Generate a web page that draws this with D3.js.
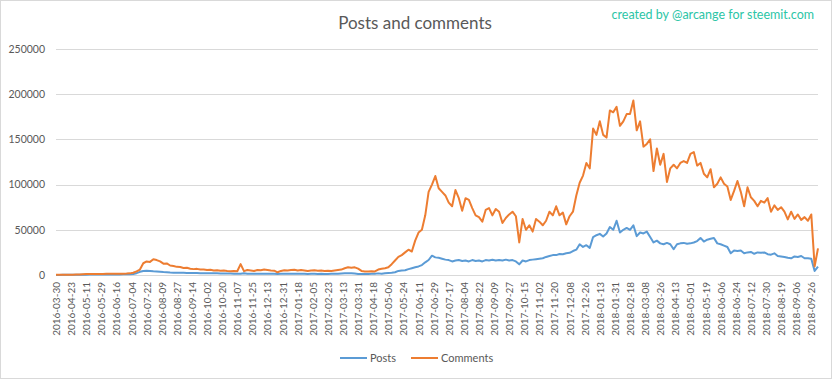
<!DOCTYPE html>
<html>
<head>
<meta charset="utf-8">
<script src="https://cdn.jsdelivr.net/npm/d3@7"></script>
<style>
  html, body { margin: 0; padding: 0; background: #fff; }
  svg { display: block; }
  text { font-family: Lato, "Open Sans", sans-serif; }
</style>
</head>
<body>
<svg id="chart" width="832" height="379"></svg>
<script>
// ---- data ----
const tickLabels = [
  "2016-03-30","2016-04-23","2016-05-11","2016-05-29","2016-06-16","2016-07-04","2016-07-22","2016-08-09","2016-08-27","2016-09-14",
  "2016-10-02","2016-10-20","2016-11-07","2016-11-25","2016-12-13","2016-12-31","2017-01-18","2017-02-05","2017-02-23","2017-03-13",
  "2017-03-31","2017-04-18","2017-05-06","2017-05-24","2017-06-11","2017-06-29","2017-07-17","2017-08-04","2017-08-22","2017-09-09",
  "2017-09-27","2017-10-15","2017-11-02","2017-11-20","2017-12-08","2017-12-26","2018-01-13","2018-01-31","2018-02-18","2018-03-08",
  "2018-03-26","2018-04-13","2018-05-01","2018-05-19","2018-06-06","2018-06-24","2018-07-12","2018-07-30","2018-08-19","2018-09-06",
  "2018-09-26"
];
const tickEvery = 18;      // categories between labels
const sampleEvery = 4;     // categories between stored samples
const categoryCount = 909; // number of daily categories

const commentsValues = [
  200,250,300,300,350,400,450,500,900,1000,
  1000,1100,1100,1200,1200,1300,1300,1400,1400,1500,
  1500,1600,1800,2500,4000,6000,13000,15000,14500,17400,
  16500,15000,12500,12800,10500,10000,9000,8800,7800,8000,
  7000,6500,6800,6000,6200,5500,5800,5000,5300,4800,
  5000,4500,4200,4400,4100,12000,4300,5500,5000,4500,
  5500,5200,6000,5500,5000,4800,3000,4500,5200,5000,
  5500,5800,5000,5400,5000,4500,5000,5200,4800,5000,
  4500,4800,4500,5000,5500,6000,7500,8500,8000,8500,
  7000,4500,4000,3800,4200,4000,6000,7000,7500,8500,
  12000,16000,20000,22000,25000,28000,26000,38000,47000,50000,
  66000,92000,100000,109500,96000,92000,88000,80000,76000,94000,
  85000,71000,85000,83000,74000,66000,64000,59000,72000,74000,
  66000,73000,70000,57500,63000,67000,70000,65000,36000,62000,
  50000,55000,48000,62000,59000,55000,60000,70000,66000,76000,
  66000,69000,56000,65000,70000,88000,102000,110000,124000,118000,
  162000,155000,170000,155000,152000,182000,180000,186000,165000,170000,
  178000,178000,193000,160000,170000,142000,145000,150000,115000,140000,
  122000,134000,103000,118000,122000,118000,124000,126000,124000,134000,
  136000,121000,124000,112000,108000,117000,97000,101000,108000,101000,
  98000,83000,93000,104000,92000,76000,97000,86000,82000,76000,
  82000,80000,85000,70000,77000,72000,75000,70000,61500,70000,
  62000,67000,61000,64000,60000,67000,9500,29500
];

const postsValues = [
  100,100,150,150,200,200,250,250,400,400,
  450,450,500,500,550,550,600,600,650,650,
  700,800,900,1200,2000,3500,4500,4800,4500,4100,
  3800,3500,3200,3000,2700,2600,2500,2400,2400,2300,
  2200,2200,2100,2000,2000,1900,1900,1800,1800,1700,
  1700,1600,1600,1500,1500,1500,2000,1500,1400,1400,
  1500,1400,1300,1400,1300,1300,1200,1300,1400,1300,
  1400,1400,1300,1400,1300,1200,1300,1300,1200,1300,
  1200,1200,1300,1300,1400,1600,1800,1800,1900,1600,
  1200,1100,1100,1200,1300,1500,1800,1500,2000,2300,
  2500,3000,4500,5000,5200,6500,7500,8500,9500,11000,
  14000,16600,21400,19500,19000,18000,17000,16500,15000,16000,
  16600,15500,16000,15000,16500,15500,16000,15000,16500,16000,
  16800,16000,16500,16000,17000,16000,16500,15000,11800,16000,
  15000,16500,17000,17500,18000,18500,20000,21000,22000,22000,
  23200,23000,24000,24500,26500,28000,34000,31000,33000,30000,
  42000,44000,45500,42500,46000,53000,50000,60000,47000,50000,
  52000,50000,55000,43000,47000,46000,48000,42000,36000,38000,
  35000,34000,35500,34000,28500,34000,35000,35500,34500,35000,
  36000,37500,41000,37000,39000,40000,41000,35000,34000,32500,
  31000,24000,27000,26500,27000,24000,25000,25500,23500,25000,
  24500,25000,23000,22500,24000,21000,20500,20000,19000,18500,
  20500,20000,21000,18500,18500,18000,4500,9200
];

const yTicks = [0, 50000, 100000, 150000, 200000, 250000];
const seriesNames = ["Posts", "Comments"];
const seriesColors = ["#5B9BD5", "#ED7D31"];

// ---- layout ----
const svg = d3.select("#chart");
const W = 832, H = 379;
const plot = { left: 56, right: 818, top: 49, bottom: 275 };

svg.append("rect").attr("x", 0.5).attr("y", 0.5).attr("width", W - 1).attr("height", H - 1)
  .attr("fill", "#fff").attr("stroke", "#d9d9d9");

const x = d3.scaleLinear().domain([0, categoryCount - 1]).range([plot.left, plot.right]);
const y = d3.scaleLinear().domain([0, 250000]).range([plot.bottom, plot.top]);

// gridlines + y labels
const yAxis = d3.axisLeft(y).tickValues(yTicks).tickSize(-(plot.right - plot.left)).tickPadding(11).tickFormat(d3.format("d"));
const gy = svg.append("g").attr("transform", `translate(${plot.left},0)`).call(yAxis);
gy.select(".domain").remove();
gy.selectAll(".tick line").attr("stroke", "#d9d9d9").attr("shape-rendering", "crispEdges");
gy.selectAll(".tick text").attr("fill", "#595959").style("font-size", "10.5px").style("font-family", "Lato, sans-serif");

// x axis labels
const tickIdx = tickLabels.map((_, i) => i * tickEvery);
const xAxis = d3.axisBottom(x).tickValues(tickIdx).tickSize(0).tickFormat((d, i) => tickLabels[i]);
const gx = svg.append("g").attr("transform", `translate(0,${plot.bottom})`).call(xAxis);
gx.select(".domain").attr("stroke", "#d9d9d9").attr("shape-rendering", "crispEdges");
gx.selectAll(".tick text")
  .attr("fill", "#595959")
  .style("font-size", "10px").style("font-family", "Lato, sans-serif")
  .attr("text-anchor", "end")
  .attr("transform", "rotate(-90)")
  .attr("x", -7).attr("y", 0).attr("dy", "0.35em");

// lines
const line = d3.line().x((d, i) => x(i * sampleEvery)).y(d => y(d));
[postsValues, commentsValues].forEach((vals, s) => {
  svg.append("path").datum(vals)
    .attr("fill", "none")
    .attr("stroke", seriesColors[s])
    .attr("stroke-width", 2)
    .attr("stroke-linejoin", "round")
    .attr("d", line);
});

// title
svg.append("text").attr("x", 415).attr("y", 29).attr("text-anchor", "middle")
  .attr("fill", "#595959").style("font-size", "17px").text("Posts and comments");

svg.append("text").attr("x", 814).attr("y", 19).attr("text-anchor", "end")
  .attr("fill", "#2cc5a6").style("font-size", "12.5px").text("created by @arcange for steemit.com");

// legend
const legend = svg.append("g").attr("transform", "translate(0,358)");
const legendX = [340, 411];
seriesNames.forEach((name, s) => {
  legend.append("line").attr("x1", legendX[s]).attr("x2", legendX[s] + 27).attr("y1", 0).attr("y2", 0)
    .attr("stroke", seriesColors[s]).attr("stroke-width", 2);
  legend.append("text").attr("x", legendX[s] + 30).attr("y", 0).attr("dy", "0.35em")
    .attr("fill", "#595959").style("font-size", "11px").text(name);
});
</script>
</body>
</html>
